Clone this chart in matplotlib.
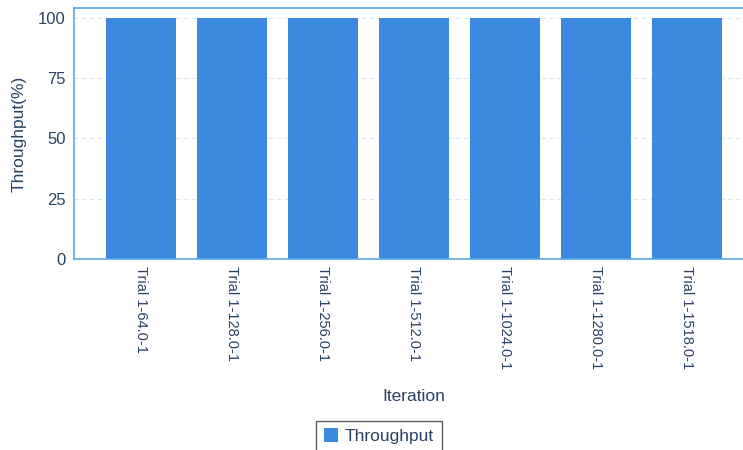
import matplotlib.pyplot as plt

# data
trials = ["Trial 1-64.0-1", "Trial 1-128.0-1", "Trial 1-256.0-1", "Trial 1-512.0-1",
          "Trial 1-1024.0-1", "Trial 1-1280.0-1", "Trial 1-1518.0-1"]
throughput = [100, 100, 100, 100, 100, 100, 100]
yticks = [0, 25, 50, 75, 100]

text_col = "#2a4262"
spine_col = "#5aa8e6"
bar_col = "#3b8ae0"

plt.rcParams["font.family"] = ["Liberation Sans", "DejaVu Sans"]

fig = plt.figure(figsize=(7.43, 4.5), dpi=100)
ax = fig.add_axes([74 / 743, 1 - 259 / 450, 680 / 743, 251 / 450])

x = range(len(trials))
ax.bar(x, throughput, width=0.77, color=bar_col, label="Throughput", zorder=2)

ax.set_xlim(-0.74, len(trials) - 0.26)
ax.set_ylim(0, 104)
ax.set_yticks(yticks)
ax.set_xticks(list(x))
ax.set_xticklabels(trials, rotation=-90, fontsize=10.5, color=text_col)
ax.tick_params(axis="y", labelsize=12, colors=text_col, length=0, pad=6)
ax.tick_params(axis="x", length=0, pad=5)

ax.grid(axis="y", linestyle=(0, (4, 3)), color="#d8e6f2", linewidth=0.8, zorder=0)

for side in ["top", "left", "bottom"]:
    ax.spines[side].set_color(spine_col)
    ax.spines[side].set_linewidth(1.2)
ax.spines["right"].set_visible(False)

ax.set_ylabel("Throughput(%)", fontsize=12.5, color=text_col, labelpad=8)
ax.set_xlabel("Iteration", fontsize=12.5, color=text_col, labelpad=14)

leg = fig.legend(loc="upper center", bbox_to_anchor=(379 / 743, 1 - 412 / 450),
                 fontsize=12.5, frameon=True, fancybox=False, handlelength=0.8,
                 handleheight=0.8, handletextpad=0.4, borderpad=0.45)
leg.get_frame().set_edgecolor("#333333")
for t in leg.get_texts():
    t.set_color(text_col)

fig.savefig("out.png", dpi=100)
